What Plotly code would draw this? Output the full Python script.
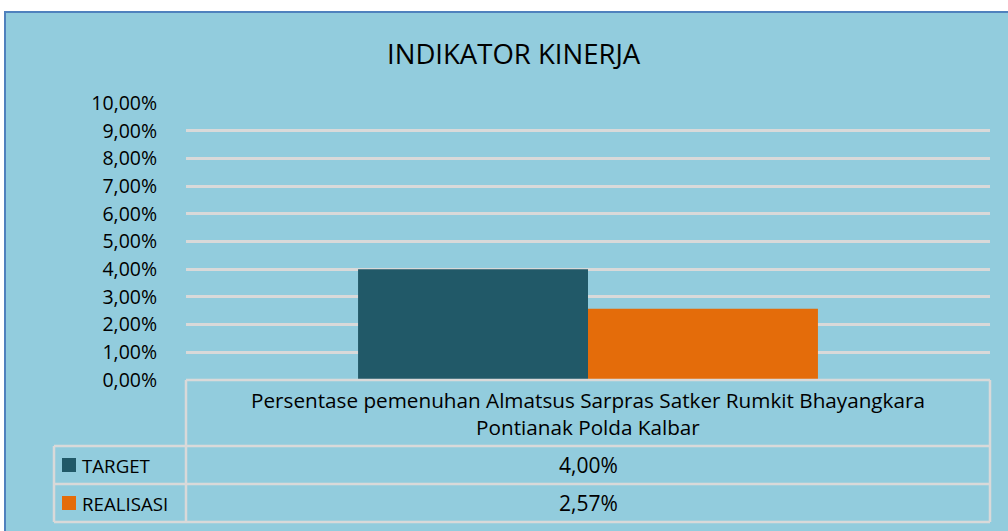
import plotly.graph_objects as go

# ---- data ----
categories = ["Persentase pemenuhan Almatsus Sarpras Satker Rumkit Bhayangkara<br>Pontianak Polda Kalbar"]
series_names = ["TARGET", "REALISASI"]
target_values = [4.00]
realisasi_values = [2.57]
y_tick_values = [0, 1, 2, 3, 4, 5, 6, 7, 8, 9, 10]
y_tick_labels = ["0,00%", "1,00%", "2,00%", "3,00%", "4,00%", "5,00%",
                 "6,00%", "7,00%", "8,00%", "9,00%", "10,00%"]
chart_title = "INDIKATOR KINERJA"
top_text = "Sampai Dengan Tahun 2019"

W, H = 1008, 531
L, R, T, B = 186, 990, 103, 380  # plot area pixel bounds
FONT = "Open Sans"
BG = "#92CCDD"
GRID = "#D9D9D9"
colors = ["#215968", "#E46C0A"]


def px(x):
    return (x - L) / (R - L)


def py(y):
    return (B - y) / (B - T)


def fmt(v):
    return f"{v:.2f}".replace(".", ",") + "%"


fig = go.Figure()
for name, vals, c in zip(series_names, [target_values, realisasi_values], colors):
    fig.add_trace(go.Bar(x=[0], y=vals, name=name, marker=dict(color=c, line=dict(width=0)),
                         hoverinfo="skip"))

shapes = []
# background chart area
shapes.append(dict(type="rect", xref="paper", yref="paper", layer="below",
                   x0=px(5), x1=px(1012), y0=py(540), y1=py(12),
                   fillcolor=BG, line=dict(color="#4F81BD", width=2)))
# data table lines
lw = dict(color=GRID, width=2.5)
shapes.append(dict(type="line", xref="paper", yref="paper", x0=px(L), x1=px(R), y0=py(B), y1=py(B), line=lw))
for yy in [446, 484, 522]:
    shapes.append(dict(type="line", xref="paper", yref="paper", x0=px(54), x1=px(R), y0=py(yy), y1=py(yy), line=lw))
for xx, y0 in [(L, B), (R, B), (54, 446)]:
    shapes.append(dict(type="line", xref="paper", yref="paper", x0=px(xx), x1=px(xx), y0=py(y0), y1=py(522), line=lw))
# legend keys
for cy, c in zip([465, 503], colors):
    shapes.append(dict(type="rect", xref="paper", yref="paper", x0=px(62), x1=px(76),
                       y0=py(cy + 7), y1=py(cy - 7), fillcolor=c, line=dict(width=0)))

txt = dict(family=FONT, size=20.7, color="#000000")
annotations = []
annotations.append(dict(text=chart_title, xref="paper", yref="paper", x=px(514), y=py(54),
                        xanchor="center", yanchor="middle",
                        showarrow=False, font=dict(family=FONT, size=27.5, color="#000000")))
annotations.append(dict(text="<b>" + top_text + "</b>", xref="paper", yref="paper", x=px(505), y=py(3),
                        xanchor="center", yanchor="bottom",
                        showarrow=False, font=dict(family=FONT, size=29, color="#000000")))
annotations.append(dict(text=categories[0], xref="paper", yref="paper", x=px(588), y=py(413),
                        xanchor="center", yanchor="middle",
                        showarrow=False, font=txt))
for cy, name, vals in zip([465, 503], series_names, [target_values, realisasi_values]):
    annotations.append(dict(text=name, xref="paper", yref="paper", x=px(80), y=py(cy),
                            xanchor="left", yanchor="middle", showarrow=False,
                            font=dict(family=FONT, size=18.7, color="#000000")))
    annotations.append(dict(text=fmt(vals[0]), xref="paper", yref="paper", x=px(588), y=py(cy),
                            xanchor="center", yanchor="middle", showarrow=False,
                            font=dict(family=FONT, size=21, color="#000000")))

fig.update_layout(
    width=W, height=H,
    margin=dict(l=L, r=W - R, t=T, b=H - B, pad=0),
    paper_bgcolor="#FFFFFF", plot_bgcolor="rgba(0,0,0,0)",
    barmode="group", bargap=0.428, bargroupgap=0,
    showlegend=False,
    shapes=shapes, annotations=annotations,
    xaxis=dict(range=[-0.5, 0.5], showticklabels=False, showgrid=False, zeroline=False,
               showline=False, ticks=""),
    yaxis=dict(range=[0, 10], tickvals=y_tick_values, ticktext=y_tick_labels,
               showgrid=True, gridcolor=GRID, gridwidth=2.5, zeroline=False, showline=False,
               ticks="outside", ticklen=24, tickcolor="rgba(0,0,0,0)",
               tickfont=dict(family=FONT, size=19.5, color="#000000")),
)

fig.write_html("out.html", config={"displayModeBar": False},
               post_script="document.body.style.margin='0px';")
